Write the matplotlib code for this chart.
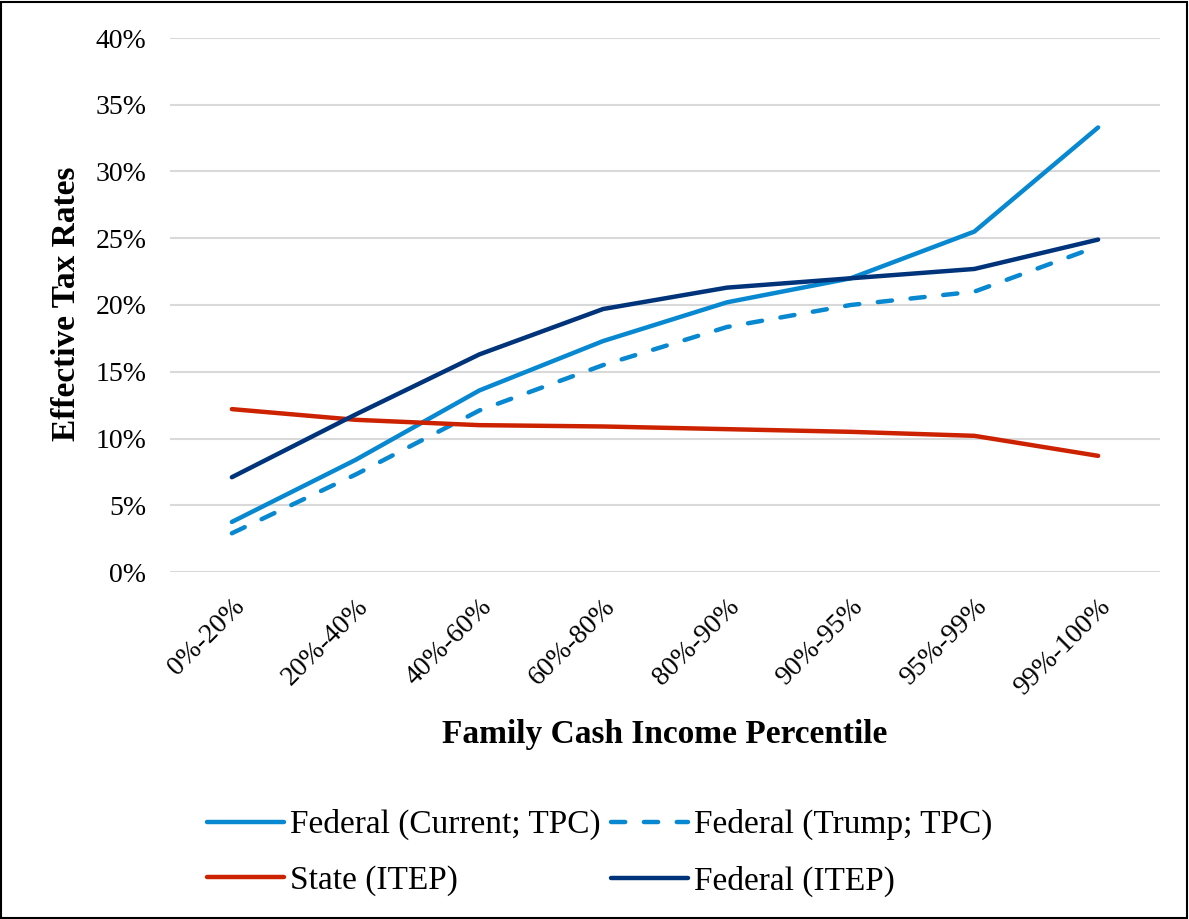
import numpy as np
import matplotlib.pyplot as plt
from matplotlib.patches import Rectangle

# data (percent)
percentiles = ['0%-20%', '20%-40%', '40%-60%', '60%-80%',
               '80%-90%', '90%-95%', '95%-99%', '99%-100%']
fed_current_tpc = [3.75, 8.4, 13.6, 17.3, 20.2, 22.0, 25.5, 33.3]
fed_trump_tpc = [2.9, 7.3, 12.1, 15.5, 18.35, 20.0, 21.0, 24.4]
state_itep = [12.2, 11.4, 11.0, 10.9, 10.7, 10.5, 10.2, 8.7]
fed_itep = [7.1, 11.8, 16.3, 19.7, 21.3, 22.0, 22.7, 24.9]
yticks = [0, 5, 10, 15, 20, 25, 30, 35, 40]

light_blue = '#0788D0'
navy = '#00347A'
red = '#CC2200'

plt.rcParams['font.family'] = 'Liberation Serif'

W, H = 1189, 919
fig = plt.figure(figsize=(W/100, H/100), dpi=100)
ax = fig.add_axes([170/W, 1-572/H, (1160-170)/W, (572-38)/H])

x = np.arange(len(percentiles))
lw = 3.2
l1, = ax.plot(x, fed_current_tpc, color=light_blue, lw=lw, solid_capstyle='round',
              label='Federal (Current; TPC)', zorder=3)
l2, = ax.plot(x, fed_trump_tpc, color=light_blue, lw=lw, dashes=(3.2, 4.2),
              dash_capstyle='round', label='Federal (Trump; TPC)', zorder=3)
l3, = ax.plot(x, state_itep, color=red, lw=lw, solid_capstyle='round',
              label='State (ITEP)', zorder=3)
l4, = ax.plot(x, fed_itep, color=navy, lw=lw, solid_capstyle='round',
              label='Federal (ITEP)', zorder=3)

ax.set_xlim(-0.5, len(percentiles)-0.5)
ax.set_ylim(0, 40)
ax.set_yticks(yticks)
ax.set_yticklabels([f'{t}%' for t in yticks], fontsize=20)
ax.set_xticks(x)
ax.set_xticklabels(percentiles, rotation=45, ha='right', rotation_mode='anchor',
                   fontsize=20)
ax.tick_params(length=0, pad=17)
ax.tick_params(axis='x', pad=16)
ax.grid(axis='y', color='#D9D9D9', lw=1.5)
ax.set_axisbelow(True)
for s in ax.spines.values():
    s.set_visible(False)

fig.text(67/W, 1-304/H, 'Effective Tax Rates', rotation=90, ha='center',
         va='center', fontsize=24, fontweight='bold')
fig.text(665/W, 1-735/H, 'Family Cash Income Percentile', ha='center',
         va='center', fontsize=24, fontweight='bold')

# row-wise order as in the reference legend
fig.legend([l1, l3, l2, l4], [l.get_label() for l in (l1, l3, l2, l4)],
           loc='center', bbox_to_anchor=(600/W, 1-853/H), ncol=2,
           frameon=False, fontsize=24, handlelength=2.3, handletextpad=0.2,
           columnspacing=0.3, labelspacing=0.75)

fig.add_artist(Rectangle((1/W, 1/H), 1-3/W, 1-3/H, transform=fig.transFigure,
                         fill=False, edgecolor='black', lw=1.5))

fig.savefig('out.png', dpi=100)
